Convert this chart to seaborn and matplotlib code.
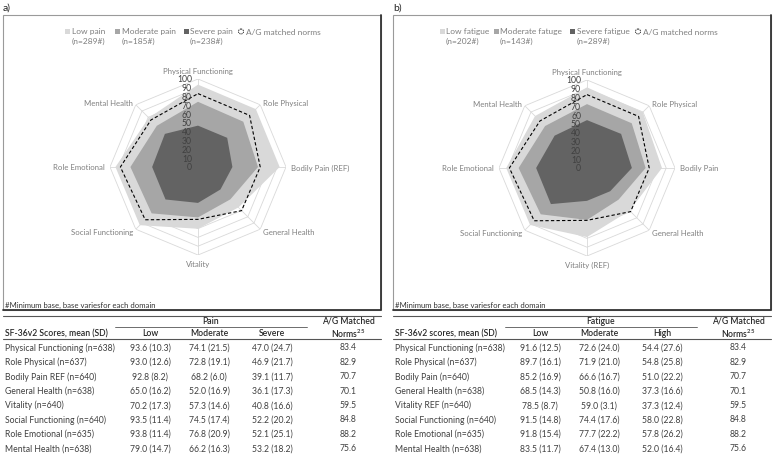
import numpy as np
import matplotlib
matplotlib.use("Agg")
import matplotlib.pyplot as plt
import seaborn as sns
from matplotlib.patches import Rectangle, Circle
from matplotlib.transforms import offset_copy

sns.set_theme(style="white")
plt.rcParams['font.family'] = ['Lato', 'DejaVu Sans']

# Data
domains = ["Physical Functioning", "Role Physical", "Bodily Pain", "General Health",
           "Vitality", "Social Functioning", "Role Emotional", "Mental Health"]
n_base = [638, 637, 640, 638, 640, 640, 635, 638]
norms = [83.4, 82.9, 70.7, 70.1, 59.5, 84.8, 88.2, 75.6]

pain_low = [93.6, 93.0, 92.8, 65.0, 70.2, 93.5, 93.8, 79.0]
pain_low_sd = [10.3, 12.6, 8.2, 16.2, 17.3, 11.4, 11.4, 14.7]
pain_mod = [74.1, 72.8, 68.2, 52.0, 57.3, 74.5, 76.8, 66.2]
pain_mod_sd = [21.5, 19.1, 6.0, 16.9, 14.6, 17.4, 20.9, 16.3]
pain_sev = [47.0, 46.9, 39.1, 36.1, 40.8, 52.2, 52.1, 53.2]
pain_sev_sd = [24.7, 21.7, 11.7, 17.3, 16.6, 20.2, 25.1, 18.2]

fat_low = [91.6, 89.7, 85.2, 68.5, 78.5, 91.5, 91.8, 83.5]
fat_low_sd = [12.5, 16.1, 16.9, 14.3, 8.7, 14.8, 15.4, 11.7]
fat_mod = [72.6, 71.9, 66.6, 50.8, 59.0, 74.4, 77.7, 67.4]
fat_mod_sd = [24.0, 21.0, 16.7, 16.0, 3.1, 17.6, 22.2, 13.0]
fat_high = [54.4, 54.8, 51.0, 37.3, 37.3, 58.0, 57.8, 52.0]
fat_high_sd = [27.6, 25.8, 22.2, 16.6, 12.4, 22.8, 26.2, 16.4]

pain_radar_labels = ["Physical Functioning", "Role Physical", "Bodily Pain (REF)", "General Health",
                     "Vitality", "Social Functioning", "Role Emotional", "Mental Health"]
fat_radar_labels = ["Physical Functioning", "Role Physical", "Bodily Pain", "General Health",
                    "Vitality (REF)", "Social Functioning", "Role Emotional", "Mental Health"]
pain_rows = [f"{d}{' REF' if d == 'Bodily Pain' else ''} (n={n})" for d, n in zip(domains, n_base)]
fat_rows = [f"{d}{' REF' if d == 'Vitality' else ''} (n={n})" for d, n in zip(domains, n_base)]

pain_legend = ["Low pain\n(n=289#)", "Moderate pain\n(n=185#)", "Severe pain\n(n=238#)"]
fat_legend = ["Low fatigue\n(n=202#)", "Moderate fatuge\n(n=143#)", "Severe fatigue\n(n=289#)"]
radial_ticks = list(range(0, 101, 10))

fill_colors = ["#d9d9d9", "#a6a6a6", "#636363"]
W, H = 773, 464
R = 88
FS = 6.2

fig = plt.figure(figsize=(W / 100, H / 100), dpi=100)
ov = fig.add_axes([0, 0, 1, 1], zorder=0)
ov.set_xlim(0, W)
ov.set_ylim(H, 0)
ov.axis('off')


def radar(cx, cy, series, labels):
    ax = fig.add_axes([(cx - R) / W, (H - cy - R) / H, 2 * R / W, 2 * R / H],
                      projection='polar', zorder=2)
    ax.set_facecolor('none')
    ax.set_theta_offset(np.pi / 2)
    ax.set_theta_direction(-1)
    ax.set_ylim(0, 100)
    ax.set_xticks([])
    ax.set_yticks([])
    ax.grid(False)
    ax.spines['polar'].set_visible(False)
    k = len(labels)
    theta = np.linspace(0, 2 * np.pi, k, endpoint=False)
    tc = np.append(theta, theta[0])
    for r in radial_ticks[1:]:
        ax.plot(tc, [r] * (k + 1), color="#d9d9d9", lw=0.6, zorder=1)
    for t in theta:
        ax.plot([t, t], [0, 100], color="#d9d9d9", lw=0.6, zorder=1)
    for vals, col in zip(series, fill_colors):
        ax.fill(tc, vals + vals[:1], color=col, lw=0, zorder=2)
    ax.plot(tc, norms + norms[:1], color="black", lw=0.8, ls=(0, (3, 2)), zorder=3)
    tr = offset_copy(ax.transData, fig=fig, x=-6, y=0, units='dots')
    for v in radial_ticks:
        ax.text(0, v, str(v), ha='right', va='center', fontsize=6.2, color="#404040",
                transform=tr, zorder=4)
    for i, (t, lab) in enumerate(zip(theta, labels)):
        if i in (0, 4):
            r, ha = 110, 'center'
        elif i in (2, 6):
            r, ha = 106, 'left' if i == 2 else 'right'
        else:
            r, ha = 104, 'left' if i < 4 else 'right'
        ax.text(t, r, lab, ha=ha, va='center', fontsize=5.6, color="#7f7f7f")


def panel(x0, tag, centre, series, labels, legend, sq_x, txt_x, norm_x,
          group, col_names, rows, head, stats):
    # box
    ov.add_patch(Rectangle((x0, 16), 378, 295, fill=False, ec="#9a9a9a", lw=0.8))
    ov.plot([x0 + 378, x0 + 378, x0], [16, 311, 311], color="#333333", lw=1.3)
    ov.text(x0, 8, tag, fontsize=7.5, color="#222222", va='center')
    radar(centre[0], centre[1], series, labels)
    # legend
    for sx, tx, lab, col in zip(sq_x, txt_x, legend, fill_colors):
        ov.add_patch(Rectangle((sx, 30), 4.5, 4.5, color=col, lw=0))
        ov.text(tx, 32.5, lab, fontsize=6, color="#7f7f7f", va='top', linespacing=1.45,
                transform=offset_copy(ov.transData, fig=fig, x=0, y=4.5, units='dots'))
    ov.add_patch(Circle((norm_x[0], 32.5), 2.5, fill=False, ec="black", lw=0.6, ls=(0, (1.5, 1))))
    ov.text(norm_x[1], 32.5, "A/G matched norms", fontsize=6, color="#7f7f7f", va='center')
    ov.text(x0 + 2, 305, "#Minimum base, base variesfor each domain", fontsize=5.6,
            color="#333333", va='center')
    # table
    cols = [x0 + 147, x0 + 206, x0 + 269, x0 + 345]
    ov.plot([x0, x0 + 378], [317, 317], color="#555555", lw=0.8)
    ov.plot([x0 + 112, x0 + 304], [327.5, 327.5], color="#555555", lw=0.6)
    ov.plot([x0, x0 + 378], [339.5, 339.5], color="#555555", lw=0.8)
    ov.text((cols[0] + cols[2]) / 2, 321.5, group, ha='center', va='center', fontsize=FS,
            color="#262626", fontweight='semibold')
    ov.text(cols[3], 321.5, "A/G Matched", ha='center', va='center', fontsize=FS,
            color="#262626", fontweight='semibold')
    ov.text(cols[3], 333.5, r"Norms$^{\mathregular{25}}$", ha='center', va='center', fontsize=FS,
            color="#262626", fontweight='semibold')
    ov.text(x0 + 2, 334, head, va='center', fontsize=FS, color="#262626", fontweight='semibold')
    for c, name in zip(cols[:3], col_names):
        ov.text(c, 334, name, ha='center', va='center', fontsize=FS, color="#262626",
                fontweight='semibold')
    for i, row in enumerate(rows):
        y = 348 + 14.4 * i
        ov.text(x0 + 2, y, row, va='center', fontsize=FS, color="#404040")
        for c, (vals, sds) in zip(cols[:3], stats):
            ov.text(c, y, f"{vals[i]:.1f} ({sds[i]:.1f})", ha='center', va='center',
                    fontsize=FS, color="#404040")
        ov.text(cols[3], y, f"{norms[i]:.1f}", ha='center', va='center', fontsize=FS,
                color="#404040")


panel(3, "a)", (198, 168), [pain_low, pain_mod, pain_sev], pain_radar_labels, pain_legend,
      [65, 115, 184], [72, 122, 190], (241, 246),
      "Pain", ["Low", "Moderate", "Severe"], pain_rows, "SF-36v2 Scores, mean (SD)",
      [(pain_low, pain_low_sd), (pain_mod, pain_mod_sd), (pain_sev, pain_sev_sd)])
panel(393, "b)", (587, 169), [fat_low, fat_mod, fat_high], fat_radar_labels, fat_legend,
      [440, 494, 570], [446, 500, 577], (638, 643),
      "Fatigue", ["Low", "Moderate", "High"], fat_rows, "SF-36v2 scores, mean (SD)",
      [(fat_low, fat_low_sd), (fat_mod, fat_mod_sd), (fat_high, fat_high_sd)])

fig.savefig("out.png", dpi=100)
